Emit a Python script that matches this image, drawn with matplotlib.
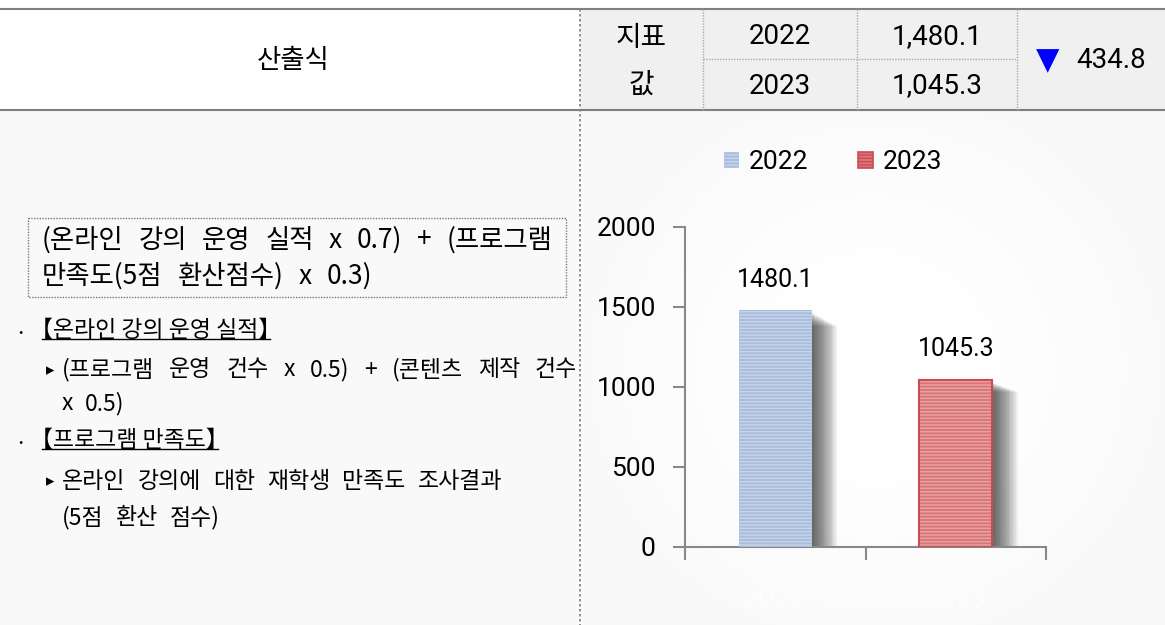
import numpy as np
import matplotlib
matplotlib.use("Agg")
import matplotlib.pyplot as plt
from matplotlib.patches import Rectangle, Patch

plt.rcParams['font.family'] = ['Noto Sans CJK KR', 'DejaVu Sans']

# data
years = ["2022", "2023"]
values = [1480.1, 1045.3]
table_vals = ["1,480.1", "1,045.3"]
diff_label = "434.8"
yticks = [0, 500, 1000, 1500, 2000]

formula = ["(온라인 강의 운영 실적 x 0.7) + (프로그램",
           "만족도(5점 환산점수) x 0.3)"]
head1 = "【온라인 강의 운영 실적】"
sub1 = ["(프로그램 운영 건수 x 0.5) + (콘텐츠 제작 건수", "x 0.5)"]
head2 = "【프로그램 만족도】"
sub2 = ["온라인 강의에 대한 재학생 만족도 조사결과", "(5점 환산 점수)"]

W, H = 1165, 625
fig = plt.figure(figsize=(W / 100, H / 100), dpi=100, facecolor="white")
bg = fig.add_axes([0, 0, 1, 1])
bg.set_xlim(0, W); bg.set_ylim(H, 0); bg.axis("off")
fig.canvas.draw()
R = fig.canvas.get_renderer()


def words(x0, y, line, size, gap=14, x1=None):
    """Draw a line word by word; justify to x1 when given."""
    parts = line.split(" ")
    ts = [bg.text(0, y, p, fontsize=size, ha="left", va="center", zorder=4) for p in parts]
    ws = [t.get_window_extent(R).width for t in ts]
    if x1 is not None and len(parts) > 1:
        gap = (x1 - x0 - sum(ws)) / (len(parts) - 1)
    x = x0
    for t, w in zip(ts, ws):
        t.set_x(x)
        x += w + gap


# body background + soft white glow behind the chart
bg.add_patch(Rectangle((0, 110), W, H - 110, color="#f9f9f9", zorder=0))
gx, gy = np.meshgrid(np.linspace(0, 1, 200), np.linspace(0, 1, 200))
d = np.clip(np.sqrt(((gx - 0.5) / 0.55) ** 2 + ((gy - 0.5) / 0.6) ** 2), 0, 1)
glow = 1 - 0.025 * d ** 2
bg.imshow(np.dstack([glow] * 3), extent=(585, W, H, 112), aspect="auto", zorder=1)

# header
bg.add_patch(Rectangle((580, 9), W - 580, 101, color="#f0f0f0", zorder=1))
gray = "#808080"
bg.plot([0, W], [9, 9], color=gray, lw=1.5, zorder=3)
bg.plot([0, W], [110, 110], color=gray, lw=1.5, zorder=3)
bg.plot([580, 580], [9, H], color=gray, lw=1.2, ls=(0, (1.5, 1.5)), zorder=3)
for x in [703, 857, 1017]:
    bg.plot([x, x], [9, 110], color="#aaaaaa", lw=1, ls=(0, (1, 1)), zorder=3)
bg.plot([703, 1017], [59, 59], color="#aaaaaa", lw=1, ls=(0, (1, 1)), zorder=3)

bg.text(293, 61, "산출식", fontsize=19, ha="center", va="center", zorder=4)
bg.text(641, 38, "지표", fontsize=20, ha="center", va="center", zorder=4)
bg.text(641, 85, "값", fontsize=20, ha="center", va="center", zorder=4)
for i, (yr, tv) in enumerate(zip(years, table_vals)):
    yy = 37 + 49 * i
    bg.text(780, yy, yr, fontsize=20, family="Roboto", ha="center", va="center", zorder=4)
    bg.text(937, yy, tv, fontsize=20, family="Roboto", ha="center", va="center", zorder=4)
bg.text(1048, 61, "▼", fontsize=22, color="#0000ff", family="DejaVu Sans",
        ha="center", va="center", zorder=4)
bg.text(1111, 60, diff_label, fontsize=20, family="Roboto", ha="center", va="center", zorder=4)

# left body text
bg.add_patch(Rectangle((28, 218), 538, 79, fill=False, ec="#777777", lw=1,
                       ls=(0, (1, 1)), zorder=3))
words(42, 240, formula[0], 19, x1=552)
words(42, 276, formula[1], 19, gap=15)

heads = []
for yh, head in [(330, head1), (440, head2)]:
    bg.text(14, yh + 5, "·", fontsize=16, ha="left", va="center", zorder=4)
    heads.append(bg.text(30, yh, head, fontsize=16.5, ha="left", va="center", zorder=4))
for ys in [370, 481]:
    bg.text(46, ys, "▸", fontsize=12, family="DejaVu Sans", ha="left", va="center", zorder=4)
words(62, 370, sub1[0], 16.5, x1=577)
words(62, 404, sub1[1], 16.5, gap=12)
words(62, 481, sub2[0], 16.5, gap=12)
words(62, 518, sub2[1], 16.5, gap=12)

for t in heads:
    bb = t.get_window_extent(R)
    x0, x1 = bb.x0 + 12, bb.x1 - 11
    yb = H - bb.y0 - 3
    bg.plot([x0, x1], [yb, yb], color="black", lw=1, zorder=4)

# chart
ax = fig.add_axes([685 / W, (H - 547) / H, 361 / W, 320 / H])
ax.patch.set_alpha(0)
xs = np.arange(len(years))
bw = 0.405
# soft shadow to the right of each bar
for k in range(14):
    off = 0.01 + 0.01 * k
    ax.bar(xs + off, [v * (1 - 0.004 * k) - 20 for v in values], width=bw,
           color="black", alpha=0.06, lw=0, zorder=1)
ax.bar(xs[0], values[0], width=bw, color="#aabedc", edgecolor="#c6d4ea",
       hatch="-----", lw=0, zorder=3)
ax.bar(xs[1], values[1], width=bw, color="#d8777a", edgecolor="#eaa3a5",
       hatch="-----", lw=0, zorder=3)
ax.bar(xs[1], values[1], width=bw, fill=False, edgecolor="#cf4a4f", lw=1.5, zorder=4)
for x, v in zip(xs, values):
    ax.annotate(f"{v:.1f}", (x, v), xytext=(0, 22), textcoords="offset points",
                ha="center", va="center", fontsize=18, family="Roboto")

ax.set_xlim(-0.5, 1.5)
ax.set_ylim(0, 2000)
ax.set_yticks(yticks)
ax.set_yticklabels([str(t) for t in yticks], fontsize=19, family="Roboto")
ax.set_xticks(xs)
ax.set_xticklabels(years, fontsize=20, family="Roboto", color="#fdfdfd")
ax.set_xticks([-0.5, 0.5, 1.5], minor=True)
ax.tick_params(axis="x", which="major", length=0, pad=28)
ax.tick_params(axis="x", which="minor", length=9, width=1.5, color="#888888")
ax.tick_params(axis="y", length=9, width=1.5, color="#888888", pad=12)
for s in ["top", "right"]:
    ax.spines[s].set_visible(False)
for s in ["left", "bottom"]:
    ax.spines[s].set_color("#888888")
    ax.spines[s].set_linewidth(1.5)

handles = [Patch(facecolor="#aabedc", edgecolor="#c6d4ea", hatch="-----", lw=0),
           Patch(facecolor="#d8777a", edgecolor="#cf4a4f", hatch="-----", lw=1.2)]
fig.legend(handles, years, loc="center", bbox_to_anchor=(833 / W, 1 - 162 / H),
           ncol=2, frameon=False, handlelength=0.57, handleheight=0.57,
           columnspacing=1.9, handletextpad=0.35,
           prop={"family": "Roboto", "size": 19})

fig.savefig("out.png", dpi=100)
